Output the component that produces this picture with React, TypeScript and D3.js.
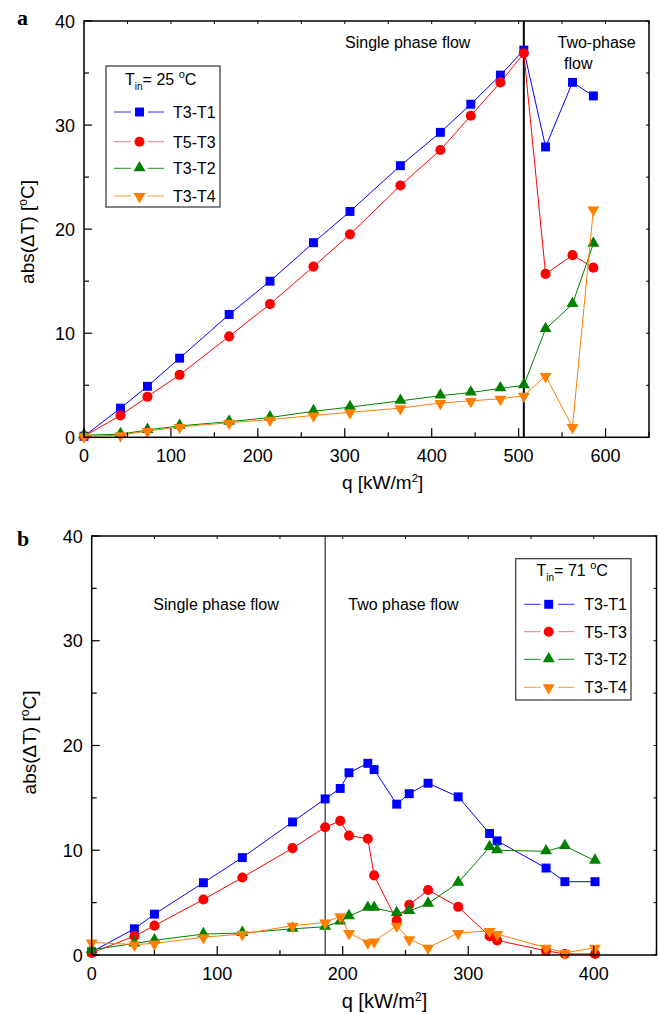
import React from 'react';
import * as d3 from 'd3';

// ---------- Panel a data (T_in = 25 °C) ----------
const qA = [0, 42, 73, 110, 167, 214, 264, 306, 364, 410, 445, 479, 506, 531, 562, 586];
const aT3T1 = [0.1, 2.8, 4.9, 7.6, 11.8, 15.0, 18.7, 21.7, 26.1, 29.3, 32.0, 34.8, 37.2, 27.9, 34.1, 32.8];
const aT5T3 = [0.1, 2.1, 3.9, 6.0, 9.7, 12.8, 16.4, 19.5, 24.2, 27.6, 30.9, 34.1, 36.9, 15.7, 17.5, 16.3];
const aT3T2 = [0.2, 0.3, 0.7, 1.1, 1.5, 1.9, 2.5, 2.9, 3.5, 4.0, 4.3, 4.7, 5.0, 10.4, 12.8, 18.6];
const aT3T4 = [0.1, 0.2, 0.6, 1.0, 1.4, 1.7, 2.1, 2.4, 2.8, 3.3, 3.5, 3.7, 4.0, 5.9, 1.0, 21.9];
const aXTicks = [0, 100, 200, 300, 400, 500, 600];
const aBoundary = 506;

// ---------- Panel b data (T_in = 71 °C) ----------
const qB = [0, 34, 50, 89, 120, 160, 186, 198, 205, 220, 225, 243, 253, 268, 292, 317, 323, 362, 377, 401];
const bT3T1 = [0.3, 2.5, 3.9, 6.9, 9.3, 12.7, 14.9, 15.9, 17.4, 18.3, 17.7, 14.4, 15.4, 16.4, 15.1, 11.6, 10.9, 8.3, 7.0, 7.0];
const bT5T3 = [0.2, 1.8, 2.8, 5.3, 7.4, 10.2, 12.2, 12.8, 11.4, 11.1, 7.6, 3.3, 4.8, 6.2, 4.6, 1.8, 1.4, 0.4, 0.1, 0.1];
const bT3T2 = [0.5, 1.1, 1.4, 2.0, 2.1, 2.5, 2.7, 3.2, 3.7, 4.5, 4.5, 4.0, 4.2, 4.9, 6.9, 10.3, 10.0, 9.9, 10.4, 9.0];
const bT3T4 = [1.2, 1.0, 1.1, 1.7, 2.0, 2.8, 3.1, 3.7, 2.1, 1.2, 1.3, 2.8, 1.5, 0.7, 2.1, 2.3, 2.0, 0.7, 0.2, 0.7];
const bXTicks = [0, 100, 200, 300, 400];
const bBoundary = 186;

const yTicks = [0, 10, 20, 30, 40];
const seriesNames = ['T3-T1', 'T5-T3', 'T3-T2', 'T3-T4'];
const seriesColors = ['#0000ff', '#ff0000', '#008000', '#ff8000'];
const legendLineColors = ['#3030ff', '#f07878', '#199019', '#ff9a40'];

const FONT = '"Liberation Sans", Arial, Helvetica, sans-serif';

type PanelProps = {
  letter: string;
  q: number[];
  series: number[][];
  xMax: number;
  xTicks: number[];
  boundary: number;
  boundaryWidth: number;
  x0: number; x1: number; y0: number; y1: number;
  tin: string;
  legend: { x0: number; x1: number; y0: number; y1: number; titleX: number; titleY: number; rows: number[]; lineA: [number, number]; lineB: [number, number]; marker: number; textX: number };
  regionLabels: { text: string; x: number; y: number }[];
  xLabelX: number; xLabelY: number; xLabelSize: number;
  yLabelX: number; yLabelY: number;
  letterX: number; letterY: number;
};

function symbolPath(i: number) {
  const types = [d3.symbolSquare, d3.symbolCircle, d3.symbolTriangle, d3.symbolTriangle];
  const sizes = [80, 80, 62, 62];
  return d3.symbol().type(types[i]).size(sizes[i])() as string;
}

function Marker({ i, x, y }: { i: number; x: number; y: number }) {
  const rot = i === 3 ? ' rotate(180)' : '';
  const dy = i === 2 ? -0.5 : i === 3 ? 0.5 : 0;
  return <path d={symbolPath(i)} transform={`translate(${x},${y + dy})${rot}`} fill={seriesColors[i]} />;
}

function Panel(p: PanelProps) {
  const x = d3.scaleLinear().domain([0, p.xMax]).range([p.x0, p.x1]);
  const y = d3.scaleLinear().domain([0, 40]).range([p.y0, p.y1]);
  const line = d3.line<[number, number]>().x(d => x(d[0])).y(d => y(d[1]));
  const minorX = d3.range(0, p.xMax + 1, 50);
  const minorY = d3.range(0, 41, 5);
  return (
    <g fontFamily={FONT}>
      {/* panel letter */}
      <text x={p.letterX} y={p.letterY} fontFamily='"Liberation Serif", "Times New Roman", serif' fontWeight="bold" fontSize={22}>{p.letter}</text>

      {/* boundary line */}
      <line x1={x(p.boundary)} x2={x(p.boundary)} y1={p.y1} y2={p.y0} stroke="#000" strokeWidth={p.boundaryWidth} />

      {/* series */}
      {p.series.map((vals, i) => {
        const pts = p.q.map((qq, k) => [qq, vals[k]] as [number, number]);
        return (
          <g key={i}>
            <path d={line(pts) as string} fill="none" stroke={seriesColors[i]} strokeWidth={1} />
            {pts.map((d, k) => <Marker key={k} i={i} x={x(d[0])} y={y(d[1])} />)}
          </g>
        );
      })}

      {/* frame */}
      <rect x={p.x0} y={p.y1} width={p.x1 - p.x0} height={p.y0 - p.y1} fill="none" stroke="#000" strokeWidth={1.5} />

      {/* x ticks */}
      {minorX.map(v => {
        const major = v % 100 === 0;
        return (
          <g key={'x' + v}>
            <line x1={x(v)} x2={x(v)} y1={p.y0} y2={p.y0 - (major ? 9 : 5)} stroke="#000" strokeWidth={1.2} />
            <line x1={x(v)} x2={x(v)} y1={p.y1} y2={p.y1 + 3} stroke="#000" strokeWidth={1} />
          </g>
        );
      })}
      {p.xTicks.map(v => (
        <text key={'xl' + v} x={x(v)} y={p.y0 + 25} textAnchor="middle" fontSize={18}>{v}</text>
      ))}

      {/* y ticks */}
      {minorY.map(v => {
        const major = v % 10 === 0;
        return (
          <g key={'y' + v}>
            <line x1={p.x0} x2={p.x0 + (major ? 8 : 5)} y1={y(v)} y2={y(v)} stroke="#000" strokeWidth={1.2} />
            <line x1={p.x1} x2={p.x1 - 3} y1={y(v)} y2={y(v)} stroke="#000" strokeWidth={1} />
          </g>
        );
      })}
      {yTicks.map(v => (
        <text key={'yl' + v} x={p.x0 - 9} y={y(v) + 6.5} textAnchor="end" fontSize={18}>{v}</text>
      ))}

      {/* axis labels */}
      <text x={p.xLabelX} y={p.xLabelY} fontSize={p.xLabelSize}>
        q [kW/m<tspan dy={-7} fontSize={p.xLabelSize * 0.6}>2</tspan><tspan dy={7}>]</tspan>
      </text>
      <text transform={`translate(${p.yLabelX},${p.yLabelY}) rotate(-90)`} textAnchor="middle" fontSize={19}>
        abs(ΔT) [<tspan dy={-7} fontSize={12}>o</tspan><tspan dy={7}>C]</tspan>
      </text>

      {/* region labels */}
      {p.regionLabels.map((r, k) => (
        <text key={'r' + k} x={r.x} y={r.y} fontSize={16}>{r.text}</text>
      ))}

      {/* legend */}
      <rect x={p.legend.x0} y={p.legend.y0} width={p.legend.x1 - p.legend.x0} height={p.legend.y1 - p.legend.y0} fill="#fff" stroke="#333" strokeWidth={1.2} />
      <text x={p.legend.titleX} y={p.legend.titleY} fontSize={16}>
        T<tspan dy={5} fontSize={10}>in</tspan><tspan dy={-5}>= {p.tin} </tspan><tspan dy={-7} fontSize={11}>o</tspan><tspan dy={7}>C</tspan>
      </text>
      {seriesNames.map((nm, i) => {
        const ry = p.legend.rows[i];
        return (
          <g key={'lg' + i}>
            <line x1={p.legend.lineA[0]} x2={p.legend.lineA[1]} y1={ry} y2={ry} stroke={legendLineColors[i]} strokeWidth={1} />
            <line x1={p.legend.lineB[0]} x2={p.legend.lineB[1]} y1={ry} y2={ry} stroke={legendLineColors[i]} strokeWidth={1} />
            <Marker i={i} x={p.legend.marker} y={ry} />
            <text x={p.legend.textX} y={ry + 6} fontSize={16}>{nm}</text>
          </g>
        );
      })}
    </g>
  );
}

export default function App() {
  return (
    <svg width={658} height={1014} style={{ position: 'absolute', left: 0, top: 0, background: '#fff' }}>
      <rect width={658} height={1014} fill="#fff" />
      <Panel
        letter="a" letterX={17} letterY={25}
        q={qA} series={[aT3T1, aT5T3, aT3T2, aT3T4]}
        xMax={650} xTicks={aXTicks} boundary={aBoundary} boundaryWidth={2}
        x0={84} x1={649} y0={437.3} y1={21}
        tin="25"
        legend={{ x0: 106, x1: 220, y0: 66, y1: 207, titleX: 125, titleY: 85, rows: [112, 141.7, 168.3, 196], lineA: [114, 131], lineB: [148, 164], marker: 139.5, textX: 173 }}
        regionLabels={[{ text: 'Single phase flow', x: 345, y: 48 }, { text: 'Two-phase', x: 557.5, y: 48 }, { text: 'flow', x: 564, y: 69 }]}
        xLabelX={342} xLabelY={489} xLabelSize={19}
        yLabelX={34} yLabelY={232}
      />
      <Panel
        letter="b" letterX={17} letterY={546}
        q={qB} series={[bT3T1, bT5T3, bT3T2, bT3T4]}
        xMax={450} xTicks={bXTicks} boundary={bBoundary} boundaryWidth={1}
        x0={91.7} x1={656.5} y0={955} y1={536}
        tin="71"
        legend={{ x0: 515.7, x1: 631, y0: 558.7, y1: 700, titleX: 536.5, titleY: 576, rows: [604.3, 631.7, 659.3, 687.3], lineA: [524, 540.5], lineB: [558, 574.3], marker: 548.7, textX: 584.3 }}
        regionLabels={[{ text: 'Single phase flow', x: 153.3, y: 609.5 }, { text: 'Two phase flow', x: 348.3, y: 609.5 }]}
        xLabelX={341.7} xLabelY={1008} xLabelSize={20}
        yLabelX={36} yLabelY={742.5}
      />
    </svg>
  );
}
